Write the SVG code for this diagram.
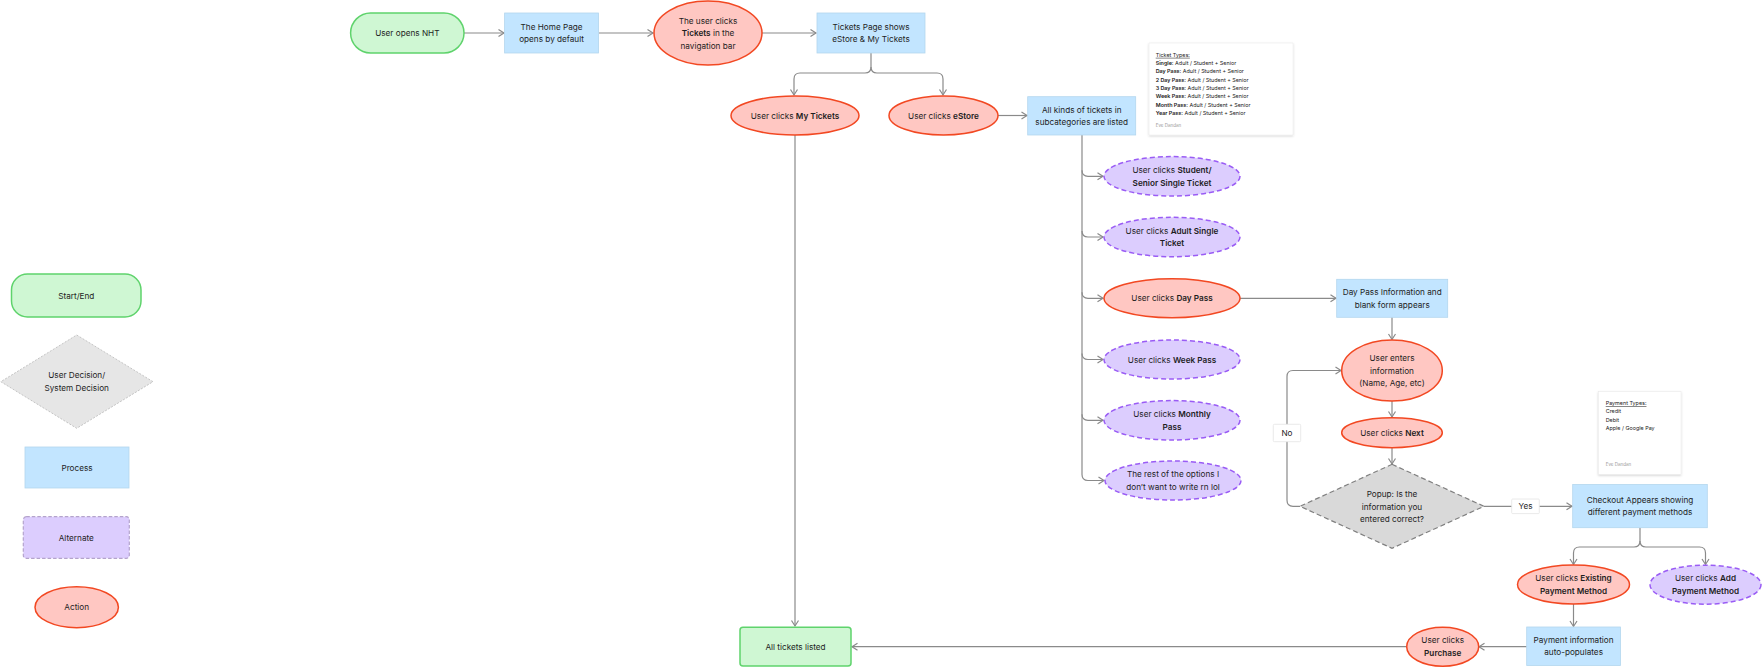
<svg xmlns="http://www.w3.org/2000/svg" width="1762" height="667" viewBox="0 0 1762 667">
<defs>
<marker id="arr" markerUnits="userSpaceOnUse" markerWidth="10" markerHeight="10" refX="6" refY="4" orient="auto" overflow="visible">
<path d="M0.5,0.5 L6,4 L0.5,7.5" fill="none" stroke="#8a8a8a" stroke-width="1.2"/>
</marker>
<filter id="sh" x="-10%" y="-10%" width="120%" height="125%">
<feDropShadow dx="0" dy="1" stdDeviation="1.2" flood-color="#000" flood-opacity="0.18"/>
</filter>
<style>
text{font-family:Inter,"Noto Sans","Liberation Sans",sans-serif;font-size:8.2px;fill:#1e1e1e;text-anchor:middle}
.b{font-weight:600}
.term{fill:#cff7d3;stroke:#5fd36c;stroke-width:1.5}
.proc{fill:#c2e5ff;stroke:#b3d6ee;stroke-width:0.8}
.act{fill:#ffc7c2;stroke:#f24822;stroke-width:1.5}
.alt{fill:#dccdfe;stroke:#9a5cf5;stroke-width:1.5;stroke-dasharray:5 3}
.dec{fill:#d9d9d9;stroke:#808080;stroke-width:1.2;stroke-dasharray:5 3}
.conn path,.conn line{fill:none;stroke:#8a8a8a;stroke-width:1.2}
.lbl{fill:#fff;stroke:#e4e4e4;stroke-width:0.8}
.note{fill:#fff;stroke:#e8e8e8;stroke-width:0.5}
.nt{font-size:5.4px;text-anchor:start;fill:#222}
.ns{font-size:4.5px;text-anchor:start;fill:#9a9a9a}
</style>
</defs>
<rect width="1762" height="667" fill="#ffffff"/>

<g id="connectors" class="conn">
<line x1="464" y1="33" x2="504" y2="33" marker-end="url(#arr)"/>
<line x1="599" y1="33" x2="653" y2="33" marker-end="url(#arr)"/>
<line x1="762" y1="33" x2="816" y2="33" marker-end="url(#arr)"/>
<path d="M871,53 V67 Q871,73 865,73 H800 Q794,73 794,79 V95" marker-end="url(#arr)"/>
<path d="M871,67 Q871,73 877,73 H937 Q943,73 943,79 V95" marker-end="url(#arr)"/>
<line x1="998" y1="115.5" x2="1027" y2="115.5" marker-end="url(#arr)"/>
<line x1="795" y1="135" x2="795" y2="626" marker-end="url(#arr)"/>
<path d="M1082,135 V474.5 Q1082,480.5 1088,480.5 H1104" marker-end="url(#arr)"/>
<path d="M1082,170.3 Q1082,176.3 1088,176.3 H1103" marker-end="url(#arr)"/>
<path d="M1082,231 Q1082,237 1088,237 H1103" marker-end="url(#arr)"/>
<path d="M1082,292.3 Q1082,298.3 1088,298.3 H1103" marker-end="url(#arr)"/>
<path d="M1082,353.5 Q1082,359.5 1088,359.5 H1103" marker-end="url(#arr)"/>
<path d="M1082,414.3 Q1082,420.3 1088,420.3 H1103" marker-end="url(#arr)"/>
<line x1="1240" y1="298.3" x2="1336" y2="298.3" marker-end="url(#arr)"/>
<line x1="1392" y1="317.3" x2="1392" y2="339.5" marker-end="url(#arr)"/>
<line x1="1392" y1="401" x2="1392" y2="417" marker-end="url(#arr)"/>
<line x1="1392" y1="447.7" x2="1392" y2="464" marker-end="url(#arr)"/>
<path d="M1300,506.3 H1293 Q1287,506.3 1287,500.3 V376.5 Q1287,370.5 1293,370.5 H1341" marker-end="url(#arr)"/>
<line x1="1484" y1="506.3" x2="1572" y2="506.3" marker-end="url(#arr)"/>
<path d="M1640,527.7 V541 Q1640,547 1634,547 H1579.5 Q1573.5,547 1573.5,553 V564.5" marker-end="url(#arr)"/>
<path d="M1640,541 Q1640,547 1646,547 H1699.5 Q1705.5,547 1705.5,553 V564.5" marker-end="url(#arr)"/>
<line x1="1573.5" y1="604" x2="1573.5" y2="626.5" marker-end="url(#arr)"/>
<line x1="1526.7" y1="646.7" x2="1479" y2="646.7" marker-end="url(#arr)"/>
<line x1="1406.7" y1="646.7" x2="852" y2="646.7" marker-end="url(#arr)"/>
<rect class="lbl" x="1273.3" y="424.3" width="27.4" height="17.4" rx="1"/>
<text x="1287" y="436">No</text>
<rect class="lbl" x="1511.7" y="499" width="27.6" height="14.6" rx="1" stroke="none"/>
<text x="1525.5" y="509.3">Yes</text>
</g>

<g id="n-start">
<rect class="term" x="350.6" y="13" width="113.4" height="40" rx="20"/>
<text x="407.3" y="36">User opens NHT</text>
</g>
<g id="n-home">
<rect class="proc" x="504.6" y="13" width="94" height="40"/>
<text x="551.6" y="29.8">The Home Page</text>
<text x="551.6" y="42.3">opens by default</text>
</g>
<g id="n-tickets">
<ellipse class="act" cx="708" cy="33" rx="54" ry="32"/>
<text x="708" y="23.5">The user clicks</text>
<text x="708" y="36"><tspan class="b">Tickets</tspan> in the</text>
<text x="708" y="48.5">navigation bar</text>
</g>
<g id="n-ticketspage">
<rect class="proc" x="817" y="13" width="108" height="40"/>
<text x="871" y="29.8">Tickets Page shows</text>
<text x="871" y="42.3">eStore &amp; My Tickets</text>
</g>
<g id="n-mytickets">
<ellipse class="act" cx="795" cy="115.5" rx="64" ry="19.5"/>
<text x="795" y="118.5">User clicks <tspan class="b">My Tickets</tspan></text>
</g>
<g id="n-estore">
<ellipse class="act" cx="943.5" cy="115.5" rx="54.5" ry="19.5"/>
<text x="943.5" y="118.5">User clicks <tspan class="b">eStore</tspan></text>
</g>
<g id="n-allkinds">
<rect class="proc" x="1027.7" y="96.7" width="108" height="38.3"/>
<text x="1081.7" y="112.5">All kinds of tickets in</text>
<text x="1081.7" y="125">subcategories are listed</text>
</g>
<g id="note-tickets">
<rect class="note" x="1149" y="43" width="144" height="92" filter="url(#sh)"/>
<text class="nt" x="1155.7" y="56.8" text-decoration="underline">Ticket Types:</text>
<text class="nt" x="1155.7" y="65.1"><tspan class="b">Single:</tspan> Adult / Student + Senior</text>
<text class="nt" x="1155.7" y="73.4"><tspan class="b">Day Pass:</tspan> Adult / Student + Senior</text>
<text class="nt" x="1155.7" y="81.7"><tspan class="b">2 Day Pass:</tspan> Adult / Student + Senior</text>
<text class="nt" x="1155.7" y="90"><tspan class="b">3 Day Pass:</tspan> Adult / Student + Senior</text>
<text class="nt" x="1155.7" y="98.3"><tspan class="b">Week Pass:</tspan> Adult / Student + Senior</text>
<text class="nt" x="1155.7" y="106.6"><tspan class="b">Month Pass:</tspan> Adult / Student + Senior</text>
<text class="nt" x="1155.7" y="114.9"><tspan class="b">Year Pass:</tspan> Adult / Student + Senior</text>
<text class="ns" x="1155.7" y="126.5">Eve Dandan</text>
</g>
<g id="n-student">
<ellipse class="alt" cx="1172" cy="176.3" rx="68" ry="19.7"/>
<text x="1172" y="173">User clicks <tspan class="b">Student/</tspan></text>
<text x="1172" y="185.5" class="b">Senior Single Ticket</text>
</g>
<g id="n-adult">
<ellipse class="alt" cx="1172" cy="237" rx="68" ry="19.7"/>
<text x="1172" y="233.7">User clicks <tspan class="b">Adult Single</tspan></text>
<text x="1172" y="246.2" class="b">Ticket</text>
</g>
<g id="n-daypass">
<ellipse class="act" cx="1172" cy="298.3" rx="68" ry="19.5"/>
<text x="1172" y="301.3">User clicks <tspan class="b">Day Pass</tspan></text>
</g>
<g id="n-week">
<ellipse class="alt" cx="1172" cy="359.5" rx="68" ry="19.5"/>
<text x="1172" y="362.5">User clicks <tspan class="b">Week Pass</tspan></text>
</g>
<g id="n-monthly">
<ellipse class="alt" cx="1172" cy="420.3" rx="68" ry="19.7"/>
<text x="1172" y="417">User clicks <tspan class="b">Monthly</tspan></text>
<text x="1172" y="429.5" class="b">Pass</text>
</g>
<g id="n-rest">
<ellipse class="alt" cx="1173" cy="480.5" rx="68" ry="19.5"/>
<text x="1173" y="477.2">The rest of the options I</text>
<text x="1173" y="489.7">don’t want to write rn lol</text>
</g>
<g id="n-dayinfo">
<rect class="proc" x="1336.7" y="279.3" width="111" height="38"/>
<text x="1392.2" y="295">Day Pass Information and</text>
<text x="1392.2" y="307.5">blank form appears</text>
</g>
<g id="n-enter">
<ellipse class="act" cx="1392" cy="370.5" rx="50.3" ry="30.5"/>
<text x="1392" y="361">User enters</text>
<text x="1392" y="373.5">information</text>
<text x="1392" y="386">(Name, Age, etc)</text>
</g>
<g id="n-next">
<ellipse class="act" cx="1392" cy="432.7" rx="50.3" ry="15"/>
<text x="1392" y="435.7">User clicks <tspan class="b">Next</tspan></text>
</g>
<g id="n-popup">
<polygon class="dec" points="1392,464.3 1484,506.3 1392,548.3 1300,506.3"/>
<text x="1392" y="497.1">Popup: Is the</text>
<text x="1392" y="509.5">information you</text>
<text x="1392" y="521.9">entered correct?</text>
</g>
<g id="note-payment">
<rect class="note" x="1598.3" y="391.7" width="82.7" height="82.6" filter="url(#sh)"/>
<text class="nt" x="1605.7" y="405" text-decoration="underline">Payment Types:</text>
<text class="nt" x="1605.7" y="413.3">Credit</text>
<text class="nt" x="1605.7" y="421.6">Debit</text>
<text class="nt" x="1605.7" y="429.9">Apple / Google Pay</text>
<text class="ns" x="1605.7" y="466.4">Eve Dandan</text>
</g>
<g id="n-checkout">
<rect class="proc" x="1572.7" y="484.5" width="134.6" height="43.2"/>
<text x="1640" y="502.6">Checkout Appears showing</text>
<text x="1640" y="515.1">different payment methods</text>
</g>
<g id="n-existing">
<ellipse class="act" cx="1573.5" cy="584.5" rx="56" ry="19.5"/>
<text x="1573.5" y="581.2">User clicks <tspan class="b">Existing</tspan></text>
<text x="1573.5" y="593.7" class="b">Payment Method</text>
</g>
<g id="n-add">
<ellipse class="alt" cx="1705.5" cy="584.7" rx="55.5" ry="19.5"/>
<text x="1705.5" y="581.4">User clicks <tspan class="b">Add</tspan></text>
<text x="1705.5" y="593.9" class="b">Payment Method</text>
</g>
<g id="n-payinfo">
<rect class="proc" x="1526.7" y="627" width="93.8" height="38.5"/>
<text x="1573.6" y="642.9">Payment information</text>
<text x="1573.6" y="655.4">auto-populates</text>
</g>
<g id="n-purchase">
<ellipse class="act" cx="1442.7" cy="646.7" rx="36" ry="19.5"/>
<text x="1442.7" y="643.4">User clicks</text>
<text x="1442.7" y="655.9" class="b">Purchase</text>
</g>
<g id="n-alllisted">
<rect class="term" x="740" y="627.3" width="111" height="38.7" rx="3"/>
<text x="795.5" y="649.7">All tickets listed</text>
</g>

<g id="legend">
<g id="legend-start">
<rect class="term" x="11.5" y="274" width="129.5" height="43" rx="16"/>
<text x="76.3" y="298.5">Start/End</text>
</g>
<g id="legend-decision">
<polygon points="76.7,335 153,381.7 76.7,428.3 0.8,381.7" fill="#e6e6e6" stroke="#c4c4c4" stroke-width="1" stroke-dasharray="2 1.5"/>
<text x="76.7" y="378.3">User Decision/</text>
<text x="76.7" y="390.8">System Decision</text>
</g>
<g id="legend-process">
<rect class="proc" x="25" y="447" width="104" height="41"/>
<text x="77" y="470.5">Process</text>
</g>
<g id="legend-alternate">
<rect x="23.3" y="516.7" width="106" height="41.6" rx="3" fill="#dccdfe" stroke="#b4a3cc" stroke-width="1.2" stroke-dasharray="3.5 2"/>
<text x="76.3" y="540.5">Alternate</text>
</g>
<g id="legend-action">
<ellipse class="act" cx="76.7" cy="607.2" rx="41.7" ry="20.5"/>
<text x="76.7" y="610.2">Action</text>
</g>
</g>
</svg>
